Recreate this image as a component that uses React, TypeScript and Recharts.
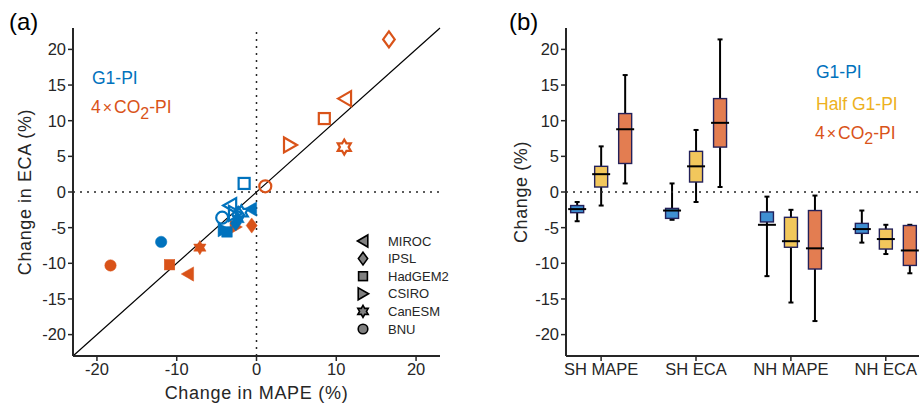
import React from "react";
import {
  ScatterChart,
  Scatter,
  ComposedChart,
  Bar,
  XAxis,
  YAxis,
  ReferenceLine,
} from "recharts";

// ---------- panel (a) data ----------
const models = ["MIROC", "IPSL", "HadGEM2", "CSIRO", "CanESM", "BNU"];

const g1HollowMape = [-3.3, -2.3, -1.55, -2.7, -1.9, -4.3];
const g1HollowEca = [-1.9, -3.2, 1.2, -3.0, -2.9, -3.6];
const g1FilledMape = [-0.7, -2.6, -3.7, -4.1, -2.3, -11.95];
const g1FilledEca = [-2.4, -4.4, -5.6, -5.3, -3.8, -7.0];

const co2HollowMape = [11.1, 16.6, 8.5, 4.2, 11.0, 1.1];
const co2HollowEca = [13.1, 21.4, 10.3, 6.6, 6.3, 0.8];
const co2FilledMape = [-8.6, -0.6, -10.9, -2.6, -7.1, -18.3];
const co2FilledEca = [-11.5, -4.7, -10.2, -4.9, -7.8, -10.3];

const axisTicks = [-20, -15, -10, -5, 0, 5, 10, 15, 20];
const xTicksA = [-20, -10, 0, 10, 20];

// ---------- panel (b) data ----------
const categories = ["SH MAPE", "SH ECA", "NH MAPE", "NH ECA"];
// [low whisker, q1, median, q3, high whisker]
const g1Boxes = [
  [-4.1, -2.9, -2.4, -1.9, -1.4],
  [-3.9, -3.7, -2.6, -2.3, 1.2],
  [-11.8, -4.2, -4.6, -2.8, -0.65],
  [-7.1, -5.8, -5.2, -4.4, -2.6],
];
const halfBoxes = [
  [-1.9, 0.7, 2.5, 3.6, 6.4],
  [-1.4, 1.4, 3.6, 5.7, 8.7],
  [-15.5, -7.75, -6.9, -3.55, -2.5],
  [-8.7, -8.0, -6.6, -5.2, -4.6],
];
const co2Boxes = [
  [1.2, 4.0, 8.8, 11.0, 16.4],
  [0.7, 6.3, 9.7, 13.1, 21.4],
  [-18.1, -10.8, -7.9, -2.6, -0.5],
  [-11.4, -10.3, -8.2, -4.7, -4.6],
];

const BLUE = "#0072BD";
const ORANGE = "#D95319";
const YELLOW = "#EDB120";
const BOX_BLUE = "#3f8fd2";
const BOX_YELLOW = "#f2c75c";
const BOX_ORANGE = "#e37d51";
const INK = "#262626";
const FONT = '"Liberation Sans", Arial, sans-serif';

const toPoints = (xs: number[], ys: number[]) =>
  models.map((m, i) => ({ x: xs[i], y: ys[i], model: m }));

const boxRows = categories.map((name, i) => {
  const pack = (b: number[]) => ({ lo: b[0], q1: b[1], med: b[2], q3: b[3], hi: b[4] });
  return { pos: i + 1, name, g1: pack(g1Boxes[i]), half: pack(halfBoxes[i]), co2: pack(co2Boxes[i]) };
});

function marker(model: string, cx: number, cy: number, fill: string, stroke: string, sw: number, s: number) {
  const common = { fill, stroke, strokeWidth: sw, strokeLinejoin: "miter" as const };
  switch (model) {
    case "MIROC":
      return <polygon {...common} points={`${cx - 7 * s},${cy} ${cx + 6 * s},${cy - 7.5 * s} ${cx + 6 * s},${cy + 7.5 * s}`} />;
    case "CSIRO":
      return <polygon {...common} points={`${cx + 7 * s},${cy} ${cx - 6 * s},${cy - 7.5 * s} ${cx - 6 * s},${cy + 7.5 * s}`} />;
    case "IPSL":
      return <polygon {...common} points={`${cx},${cy - 8 * s} ${cx + 5.8 * s},${cy} ${cx},${cy + 8 * s} ${cx - 5.8 * s},${cy}`} />;
    case "HadGEM2":
      return <rect {...common} x={cx - 5.5 * s} y={cy - 5.5 * s} width={11 * s} height={11 * s} />;
    case "CanESM": {
      const R = 7.5 * s;
      const pts = [];
      for (let k = 0; k < 12; k++) {
        const a = ((-90 + k * 30) * Math.PI) / 180;
        const r = k % 2 === 0 ? R : R / Math.sqrt(3);
        pts.push(`${cx + r * Math.cos(a)},${cy + r * Math.sin(a)}`);
      }
      return <polygon {...common} points={pts.join(" ")} />;
    }
    default:
      return <circle {...common} cx={cx} cy={cy} r={6 * s} />;
  }
}

const hollowShape = (color: string) => (p: any) =>
  <g>{marker(p.payload.model, p.cx, p.cy, "none", color, 2.2, 1)}</g>;
const filledShape = (color: string) => (p: any) =>
  <g>{marker(p.payload.model, p.cx, p.cy, color, color, 0.5, 0.95)}</g>;

const boxShape = (key: "g1" | "half" | "co2", color: string) => (p: any) => {
  const d = p.payload[key];
  const { x, y, width, height } = p;
  const ppu = height / (d.q3 - d.q1);
  const yOf = (v: number) => y + (d.q3 - v) * ppu;
  const cx = x + width / 2;
  const top = yOf(d.hi);
  const bot = yOf(d.lo);
  const med = yOf(d.med);
  return (
    <g>
      <line x1={cx} x2={cx} y1={top} y2={y} stroke="#000" strokeWidth={2} />
      <line x1={cx} x2={cx} y1={y + height} y2={bot} stroke="#000" strokeWidth={2} />
      <line x1={cx - 2.5} x2={cx + 2.5} y1={top} y2={top} stroke="#000" strokeWidth={2} />
      <line x1={cx - 2.5} x2={cx + 2.5} y1={bot} y2={bot} stroke="#000" strokeWidth={2} />
      <rect x={x} y={y} width={width} height={height} fill={color} stroke="#23215a" strokeWidth={1.4} />
      <line x1={cx - 9} x2={cx + 9} y1={med} y2={med} stroke="#000" strokeWidth={2} />
    </g>
  );
};

const axisLine = { stroke: INK, strokeWidth: 2 };
const tickLine = { stroke: INK, strokeWidth: 1.5 };
const tickStyle = { fill: INK, fontSize: 16.5, fontFamily: FONT };

const yTitle = (text: string, shift: number) => (props: any) => {
  const vb = props.viewBox || { x: 0, y: 28, width: 60, height: 328 };
  const tx = vb.x + shift;
  const ty = vb.y + vb.height / 2;
  return (
    <text x={tx} y={ty} transform={`rotate(-90 ${tx} ${ty})`} textAnchor="middle" dominantBaseline="central"
      fill={INK} fontSize={18} fontFamily={FONT} letterSpacing={0.6}>
      {text}
    </text>
  );
};

function Co2Label({ x, y, color }: { x: number; y: number; color: string }) {
  return (
    <text x={x} y={y} fill={color} fontSize={17.5} fontFamily={FONT}>
      4<tspan fontSize={16} dx={2}>×</tspan>
      <tspan dx={2}>CO</tspan>
      <tspan dy={5.5} fontSize={16}>2</tspan>
      <tspan dy={-5.5}>-PI</tspan>
    </text>
  );
}

export default function App() {
  return (
    <div style={{ position: "absolute", left: 0, top: 0, width: 919, height: 412, background: "#fff", fontFamily: FONT }}>
      <div style={{ position: "absolute", left: 0, top: 0 }}>
        <ScatterChart width={460} height={412} margin={{ top: 28, right: 20, bottom: 26, left: 13 }}>
          <XAxis
            type="number"
            dataKey="x"
            domain={[-23, 23]}
            ticks={xTicksA}
            allowDataOverflow
            axisLine={axisLine}
            tickLine={tickLine}
            tickSize={5}
            tick={tickStyle}
            height={30}
            label={{ value: "Change in MAPE (%)", position: "bottom", offset: 0, fill: INK, fontSize: 18, fontFamily: FONT, letterSpacing: 0.7 }}
          />
          <YAxis
            type="number"
            dataKey="y"
            domain={[-23, 23]}
            ticks={axisTicks}
            allowDataOverflow
            axisLine={axisLine}
            tickLine={tickLine}
            tickSize={5}
            tick={tickStyle}
            width={60}
            label={{ content: yTitle("Change in ECA (%)", 12) }}
          />
          <ReferenceLine x={0} stroke={INK} strokeWidth={1.5} strokeDasharray="2 5" />
          <ReferenceLine y={0} stroke={INK} strokeWidth={1.5} strokeDasharray="2 5" />
          <ReferenceLine segment={[{ x: -23, y: -23 }, { x: 23, y: 23 }]} stroke="#000" strokeWidth={1.2} />
          <Scatter data={toPoints(co2FilledMape, co2FilledEca)} shape={filledShape(ORANGE)} isAnimationActive={false} />
          <Scatter data={toPoints(co2HollowMape, co2HollowEca)} shape={hollowShape(ORANGE)} isAnimationActive={false} />
          <Scatter data={toPoints(g1FilledMape, g1FilledEca)} shape={filledShape(BLUE)} isAnimationActive={false} />
          <Scatter data={toPoints(g1HollowMape, g1HollowEca)} shape={hollowShape(BLUE)} isAnimationActive={false} />
        </ScatterChart>
      </div>

      <div style={{ position: "absolute", left: 460, top: 0 }}>
        <ComposedChart width={459} height={412} data={boxRows} barGap={11} margin={{ top: 28, right: 0, bottom: 26, left: 46 }}>
          <XAxis
            type="number"
            dataKey="pos"
            domain={[0.63, 4.35]}
            ticks={[1, 2, 3, 4]}
            tickFormatter={(v: number) => categories[v - 1] ?? ""}
            allowDataOverflow
            axisLine={axisLine}
            tickLine={tickLine}
            tickSize={5}
            tick={tickStyle}
            height={30}
          />
          <YAxis
            type="number"
            domain={[-23, 23]}
            ticks={axisTicks}
            allowDataOverflow
            axisLine={axisLine}
            tickLine={tickLine}
            tickSize={5}
            tick={tickStyle}
            width={60}
            label={{ content: yTitle("Change (%)", 15) }}
          />
          <ReferenceLine y={0} stroke={INK} strokeWidth={1.5} strokeDasharray="2 5" />
          <Bar dataKey={(d: any) => [d.g1.q1, d.g1.q3]} barSize={13} shape={boxShape("g1", BOX_BLUE)} isAnimationActive={false} />
          <Bar dataKey={(d: any) => [d.half.q1, d.half.q3]} barSize={13} shape={boxShape("half", BOX_YELLOW)} isAnimationActive={false} />
          <Bar dataKey={(d: any) => [d.co2.q1, d.co2.q3]} barSize={13} shape={boxShape("co2", BOX_ORANGE)} isAnimationActive={false} />
        </ComposedChart>
      </div>

      <svg width={919} height={412} style={{ position: "absolute", left: 0, top: 0, pointerEvents: "none" }}>
        <text x={9} y={30} fontSize={24} fill="#000" fontFamily={FONT}>(a)</text>
        <text x={509} y={30} fontSize={24} fill="#000" fontFamily={FONT}>(b)</text>

        <text x={92} y={83.5} fill={BLUE} fontSize={17.5} fontFamily={FONT}>G1-PI</text>
        <Co2Label x={91} y={113} color={ORANGE} />

        {models.map((m, i) => (
          <g key={m}>
            {marker(m, 363, 241 + i * 17.6, "#808080", "#000", 1.6, 0.8)}
            <text x={388} y={241 + i * 17.6 + 4.5} fontSize={13} fill={INK} fontFamily={FONT}>{m}</text>
          </g>
        ))}

        <text x={816} y={78} fill={BLUE} fontSize={17.5} fontFamily={FONT}>G1-PI</text>
        <text x={816} y={110} fill={YELLOW} fontSize={17.5} fontFamily={FONT}>Half G1-PI</text>
        <Co2Label x={815} y={138.5} color={ORANGE} />
      </svg>
    </div>
  );
}
